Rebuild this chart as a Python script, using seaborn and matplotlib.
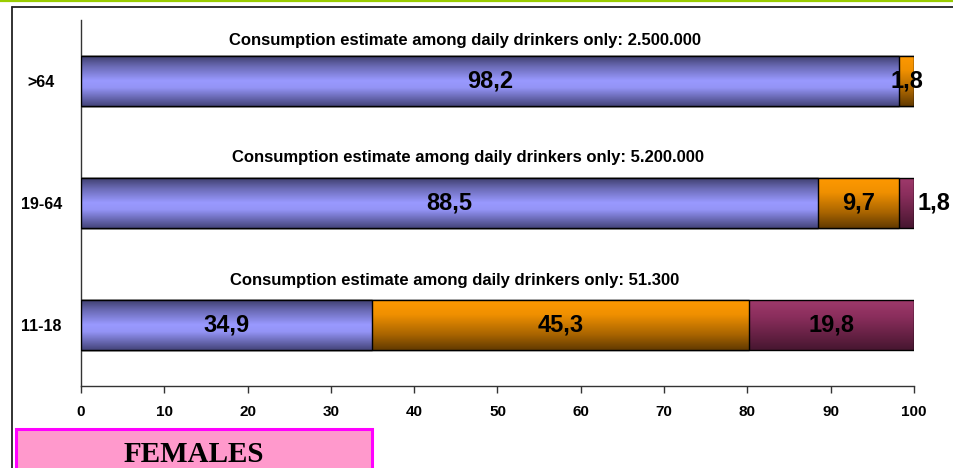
import numpy as np
import pandas as pd
import matplotlib
matplotlib.use("Agg")
import matplotlib.pyplot as plt
import seaborn as sns
from matplotlib.colors import LinearSegmentedColormap
from matplotlib.patches import Rectangle
from matplotlib.lines import Line2D

# ---- data -------------------------------------------------------------
age_groups = [">64", "19-64", "11-18"]
first_share = [98.2, 88.5, 34.9]
second_share = [1.8, 9.7, 45.3]
third_share = [0.0, 1.8, 19.8]
daily_estimates = ["2.500.000", "5.200.000", "51.300"]
x_ticks = [0, 10, 20, 30, 40, 50, 60, 70, 80, 90, 100]
panel_title = "FEMALES"

# ---- style ------------------------------------------------------------
sns.set_theme(style="white")
plt.rcParams["font.family"] = ["Liberation Sans", "DejaVu Sans"]
plt.rcParams["text.color"] = "black"
plt.rcParams["xtick.color"] = "#333333"
plt.rcParams["xtick.labelcolor"] = "black"
plt.rcParams["ytick.labelcolor"] = "black"

fig = plt.figure(figsize=(9.54, 4.68), dpi=100)
ax = fig.add_axes([81 / 954, 82 / 468, (914 - 81) / 954, (448 - 82) / 468])

cum1 = np.array(first_share)
cum2 = cum1 + np.array(second_share)
cum3 = cum2 + np.array(third_share)

blue_cmap = LinearSegmentedColormap.from_list(
    "blue_band",
    [(0.0, "#3b3b68"), (0.22, "#6a6ab4"), (0.5, "#9999ff"),
     (0.64, "#9494f6"), (1.0, "#44447a")])
orange_cmap = LinearSegmentedColormap.from_list(
    "orange_band",
    [(0.0, "#ff9900"), (0.3, "#f09000"), (0.7, "#a86400"), (1.0, "#623a00")])
purple_cmap = LinearSegmentedColormap.from_list(
    "purple_band",
    [(0.0, "#a03a6c"), (0.35, "#8a2e5c"), (1.0, "#471630")])

layers = [(cum3, "#993366", purple_cmap),
          (cum2, "#ff9900", orange_cmap),
          (cum1, "#9999ff", blue_cmap)]

grad = np.linspace(0, 1, 256).reshape(-1, 1)
for k, (cum, base, cmap) in enumerate(layers):
    df = pd.DataFrame({"group": age_groups, "value": cum})
    n_before = len(ax.patches)
    sns.barplot(data=df, x="value", y="group", order=age_groups, orient="h",
                width=0.41, color=base, saturation=1, edgecolor="black",
                linewidth=1.0, ax=ax)
    for patch in ax.patches[n_before:]:
        x0, y0 = patch.get_x(), patch.get_y()
        w, h = patch.get_width(), patch.get_height()
        z = 2 + k
        patch.set_zorder(z + 0.5)
        patch.set_facecolor("none")
        im = ax.imshow(grad, cmap=cmap, origin="lower", aspect="auto",
                       extent=(x0, x0 + w, y0, y0 + h), zorder=z,
                       interpolation="bilinear")
        im.set_clip_path(patch)

ax.set_xlim(0, 100)
ax.set_ylim(2.5, -0.5)

# value labels inside segments; the narrow end slice of the middle row
# gets its label pushed past the bar end
label_shift = {(1, 2): 3.3}
# placement of the estimate line above each bar (x centre, offset above bar)
note_pos = [(46.1, -0.33), (46.5, -0.37), (44.9, -0.365)]
for i in range(len(age_groups)):
    starts = [0.0, cum1[i], cum2[i]]
    vals = [first_share[i], second_share[i], third_share[i]]
    for j, (s, v) in enumerate(zip(starts, vals)):
        if v <= 0:
            continue
        xc = s + v / 2 + label_shift.get((i, j), 0.0)
        ax.text(xc, i, f"{v:.1f}".replace(".", ","), ha="center", va="center",
                fontsize=17, fontweight="bold", color="black", zorder=10)
    nx, ny = note_pos[i]
    ax.text(nx, i + ny,
            f"Consumption estimate among daily drinkers only: {daily_estimates[i]}",
            ha="center", va="center", fontsize=12, fontweight="bold",
            color="black", zorder=10)

# axes styling
for side in ("top", "right"):
    ax.spines[side].set_visible(False)
for side in ("left", "bottom"):
    ax.spines[side].set_color("#333333")
    ax.spines[side].set_linewidth(1.0)
ax.set_xticks(x_ticks)
ax.set_xticklabels([str(t) for t in x_ticks], fontsize=11, fontweight="bold")
ax.tick_params(axis="x", direction="out", length=5, width=1, color="#333333",
               pad=9, bottom=True)
ax.tick_params(axis="y", length=0, pad=28.5)
for lab in ax.get_yticklabels():
    lab.set_fontsize(11.5)
    lab.set_fontweight("bold")
    lab.set_color("black")
    lab.set_horizontalalignment("center")
ax.set_xlabel("")
ax.set_ylabel("")
ax.grid(False)

# page frame
fig.add_artist(Line2D([0, 1], [1 - 1 / 468, 1 - 1 / 468], color="#99cc00",
                      lw=1.6, transform=fig.transFigure))
fig.add_artist(Line2D([12.5 / 954, 1], [1 - 7 / 468, 1 - 7 / 468],
                      color="#222222", lw=1.3, transform=fig.transFigure))
fig.add_artist(Line2D([12.5 / 954, 12.5 / 954], [0, 1 - 7 / 468],
                      color="#222222", lw=1.3, transform=fig.transFigure))

# panel title box
fig.add_artist(Rectangle((16 / 954, -2 / 468), (372 - 16) / 954, (468 - 429 + 2) / 468,
                         transform=fig.transFigure, facecolor="#ff99cc",
                         edgecolor="#ff00ff", lw=2.2))
fig.text(194 / 954, (468 - 454) / 468, panel_title, ha="center", va="center",
         family=["Liberation Serif", "DejaVu Serif"], fontweight="bold",
         fontsize=21, color="black")

fig.savefig("out.png", dpi=100)
